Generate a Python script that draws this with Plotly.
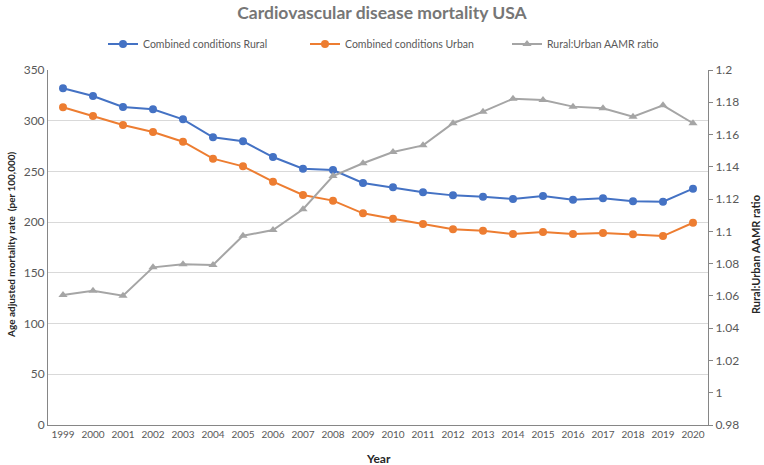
import plotly.graph_objects as go

years = [str(y) for y in range(1999, 2021)]

rural = [332, 324.4, 313.5, 311.2, 301.4, 283.6, 279.7, 264.2, 252.7, 251.4, 238.6,
         234.3, 229.4, 226.4, 225.1, 222.8, 225.8, 222.1, 223.5, 220.5, 220.2, 233]
urban = [313.2, 304.6, 295.8, 288.9, 279.3, 262.6, 255, 239.9, 226.8, 221.2, 208.7,
         203.4, 198.2, 192.9, 191.6, 188.3, 190.3, 188.3, 189.3, 188, 186.3, 199.4]
ratio = [1.0606, 1.0632, 1.0601, 1.0777, 1.0796, 1.0792, 1.0973, 1.1008, 1.1137, 1.1343, 1.1422,
         1.1492, 1.1533, 1.167, 1.1742, 1.1822, 1.1814, 1.1773, 1.1763, 1.1711, 1.1781, 1.167]

font = "Lato"
txt = "#595959"
dark = "#262626"

# plot area in pixels: x 48..708, y 70..425
L, R, T, B = 48, 56, 70, 40
pw, ph = 764 - L - R, 465 - T - B

fig = go.Figure()
fig.add_trace(go.Scatter(x=years, y=rural, name="Combined conditions Rural",
                         mode="lines+markers", line=dict(color="#4472C4", width=2),
                         marker=dict(symbol="circle", size=8)))
fig.add_trace(go.Scatter(x=years, y=urban, name="Combined conditions Urban",
                         mode="lines+markers", line=dict(color="#ED7D31", width=2),
                         marker=dict(symbol="circle", size=8)))
fig.add_trace(go.Scatter(x=years, y=ratio, name="Rural:Urban AAMR ratio", yaxis="y2",
                         mode="lines+markers", line=dict(color="#A5A5A5", width=2),
                         marker=dict(symbol="triangle-up", size=8)))

fig.update_layout(
    width=764, height=465,
    margin=dict(l=L, r=R, t=T, b=B, autoexpand=False),
    paper_bgcolor="white", plot_bgcolor="white",
    font=dict(family=font, size=11, color=txt),
    title=dict(text="<b>Cardiovascular disease mortality USA</b>", x=0.5, xanchor="center",
               yref="container", y=1 - 13 / 465, yanchor="middle",
               font=dict(size=17.5, color="#767676", family=font)),
    legend=dict(orientation="h", x=(103 - L) / pw, xanchor="left",
                y=1 + (T - 44) / ph, yanchor="middle",
                font=dict(size=10.5, color=txt), itemwidth=30,
                entrywidth=157, entrywidthmode="pixels"),
    xaxis=dict(type="category", range=[-0.5, 21.5], showgrid=False, automargin=False,
               showline=True, linecolor="#868686", linewidth=1, ticks="",
               tickfont=dict(size=10, color=txt)),
    yaxis=dict(range=[0, 350], dtick=50, showgrid=True, gridcolor="#D9D9D9", gridwidth=1,
               showline=True, linecolor="#868686", linewidth=1, zeroline=False,
               automargin=False, tickfont=dict(size=12, color=txt)),
    yaxis2=dict(overlaying="y", side="right", range=[0.98, 1.2], dtick=0.02, tick0=0.98,
                showgrid=False, showline=True, linecolor="#868686", linewidth=1,
                ticks="outside", ticklen=4, tickcolor="#868686", zeroline=False,
                automargin=False, tickfont=dict(size=12, color=txt)),
    annotations=[
        dict(text="<b>Age adjusted mortality rate  (per 100,000)</b>", textangle=-90,
             xref="paper", yref="paper", x=(11 - L) / pw, y=(425 - 245) / ph,
             xanchor="center", yanchor="middle", showarrow=False,
             font=dict(size=10, color=dark)),
        dict(text="<b>Rural:Urban AAMR ratio</b>", textangle=-90,
             xref="paper", yref="paper", x=(755 - L) / pw, y=(425 - 255) / ph,
             xanchor="center", yanchor="middle", showarrow=False,
             font=dict(size=11, color=dark)),
        dict(text="<b>Year</b>", xref="paper", yref="paper",
             x=(378 - L) / pw, y=(425 - 458) / ph, xanchor="center", yanchor="middle",
             showarrow=False, font=dict(size=12, color=dark)),
    ],
)

# drop the default page margin so the figure sits at the window's top-left corner
fig.write_html("out.html", config={"displayModeBar": False},
               post_script="document.body.style.margin='0';")
